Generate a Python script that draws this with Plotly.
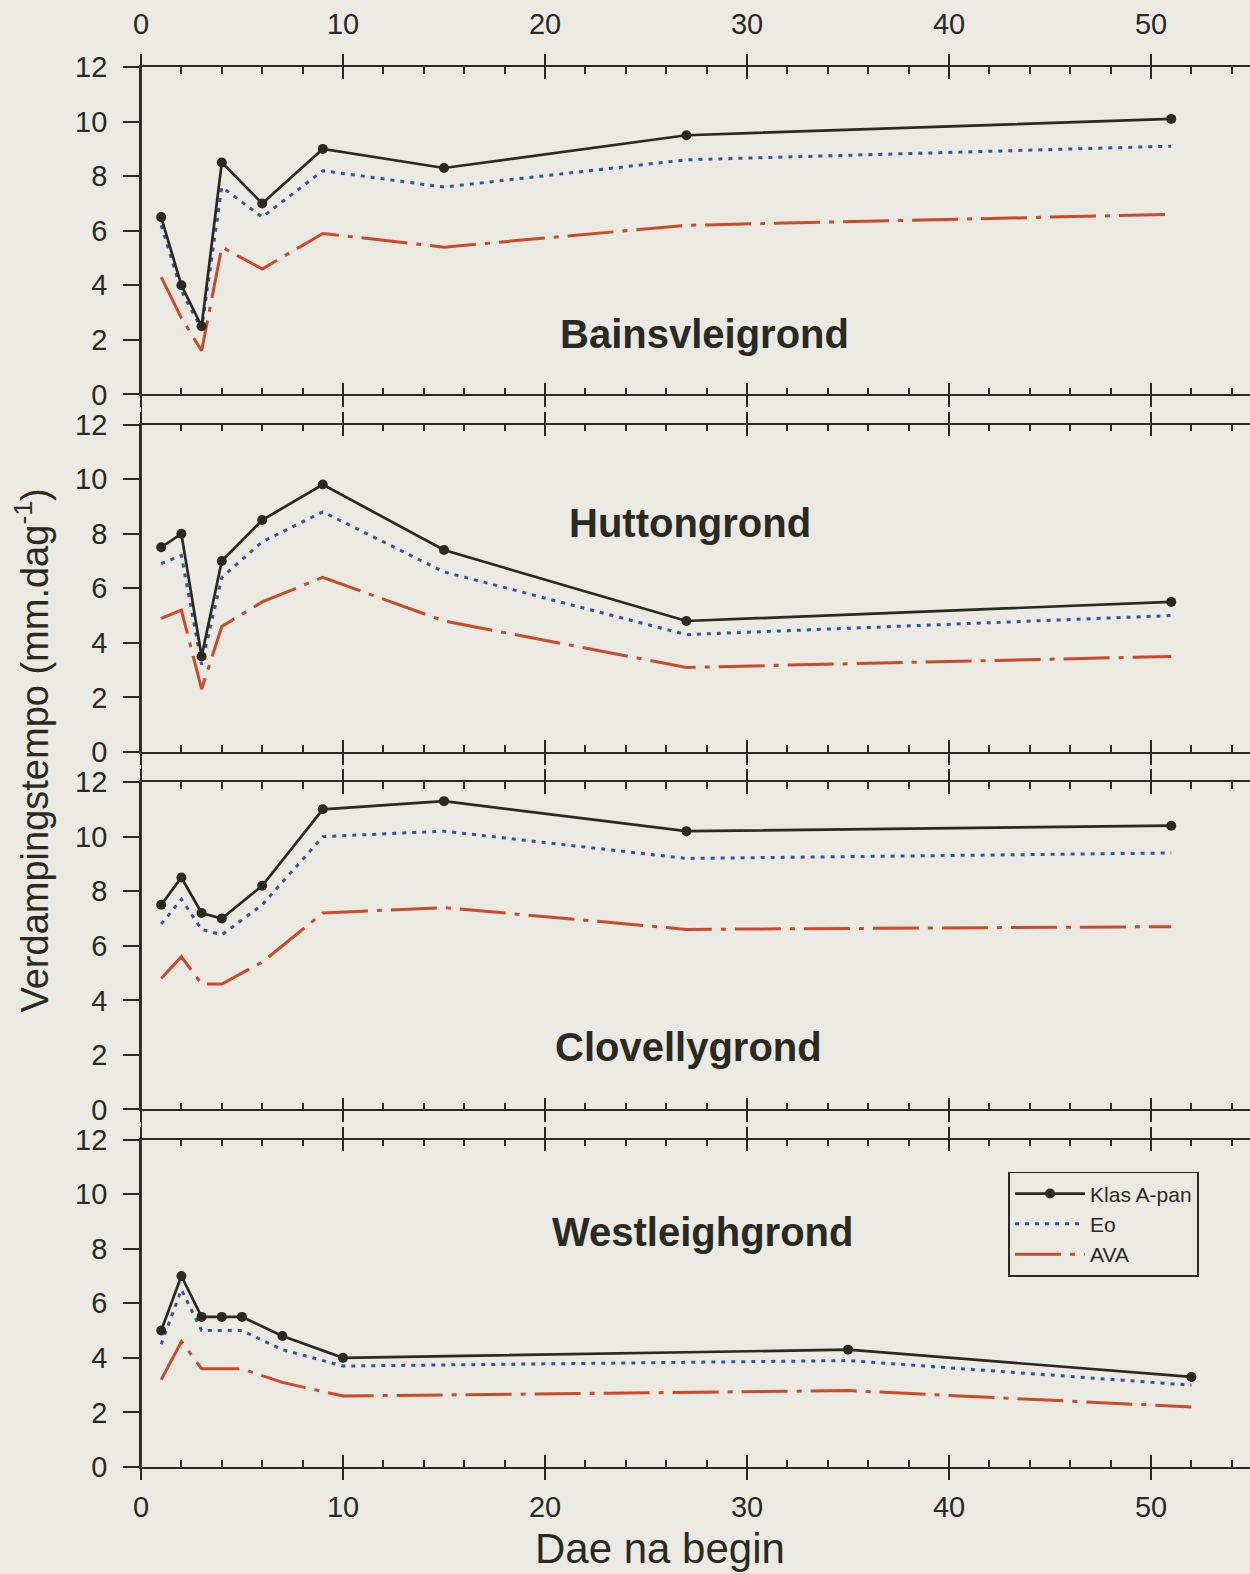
import plotly.graph_objects as go

# Days after start (x) and evaporation rates (mm/day) per soil
days_bains = [1, 2, 3, 4, 6, 9, 15, 27, 51]
pan_bains = [6.5, 4.0, 2.5, 8.5, 7.0, 9.0, 8.3, 9.5, 10.1]
eo_bains = [6.2, 3.8, 2.4, 7.6, 6.5, 8.2, 7.6, 8.6, 9.1]
ava_bains = [4.3, 2.8, 1.6, 5.4, 4.6, 5.9, 5.4, 6.2, 6.6]

days_hutton = [1, 2, 3, 4, 6, 9, 15, 27, 51]
pan_hutton = [7.5, 8.0, 3.5, 7.0, 8.5, 9.8, 7.4, 4.8, 5.5]
eo_hutton = [6.9, 7.2, 3.2, 6.4, 7.7, 8.8, 6.6, 4.3, 5.0]
ava_hutton = [4.9, 5.2, 2.3, 4.6, 5.5, 6.4, 4.8, 3.1, 3.5]

days_clov = [1, 2, 3, 4, 6, 9, 15, 27, 51]
pan_clov = [7.5, 8.5, 7.2, 7.0, 8.2, 11.0, 11.3, 10.2, 10.4]
eo_clov = [6.8, 7.7, 6.6, 6.4, 7.5, 10.0, 10.2, 9.2, 9.4]
ava_clov = [4.8, 5.6, 4.6, 4.6, 5.4, 7.2, 7.4, 6.6, 6.7]

days_west = [1, 2, 3, 4, 5, 7, 10, 35, 52]
pan_west = [5.0, 7.0, 5.5, 5.5, 5.5, 4.8, 4.0, 4.3, 3.3]
eo_west = [4.5, 6.5, 5.0, 5.0, 5.0, 4.3, 3.7, 3.9, 3.0]
ava_west = [3.2, 4.6, 3.6, 3.6, 3.6, 3.1, 2.6, 2.8, 2.2]

soil_names = ["Bainsvleigrond", "Huttongrond", "Clovellygrond", "Westleighgrond"]
# label anchor (day, rate) inside each panel
label_pos = [(27.9, 2.2), (27.2, 8.4), (27.1, 2.3), (27.8, 8.6)]

series_names = ["Klas A-pan", "Eo", "AVA"]
x_ticks = [0, 10, 20, 30, 40, 50]
y_ticks = [0, 2, 4, 6, 8, 10, 12]

panels = [
    (days_bains, pan_bains, eo_bains, ava_bains),
    (days_hutton, pan_hutton, eo_hutton, ava_hutton),
    (days_clov, pan_clov, eo_clov, ava_clov),
    (days_west, pan_west, eo_west, ava_west),
]

INK = "#2a2a22"
BLUE = "#3b51a0"
RED = "#cc4a2c"
BG = "#ebeae2"
FONT = "Liberation Sans, Arial, sans-serif"
XMAX = 54.9

fig = go.Figure()

for i, (d, pan, eo, ava) in enumerate(panels):
    xa = "x" if i == 0 else f"x{i+1}"
    ya = "y" if i == 0 else f"y{i+1}"
    first = i == 0
    fig.add_trace(go.Scatter(
        x=d, y=ava, mode="lines", name=series_names[2], legendrank=3,
        line=dict(color=RED, width=3, dash="46px,9px,5px,9px"),
        xaxis=xa, yaxis=ya, showlegend=first, hoverinfo="skip"))
    fig.add_trace(go.Scatter(
        x=d, y=eo, mode="lines", name=series_names[1], legendrank=2,
        line=dict(color=BLUE, width=3, dash="4px,6px"),
        xaxis=xa, yaxis=ya, showlegend=first, hoverinfo="skip"))
    fig.add_trace(go.Scatter(
        x=d, y=pan, mode="lines+markers", name=series_names[0], legendrank=1,
        line=dict(color=INK, width=2.7),
        marker=dict(color=INK, size=10),
        xaxis=xa, yaxis=ya, showlegend=first, hoverinfo="skip"))
    # empty trace so the overlay axis carrying outward major ticks is drawn
    fig.add_trace(go.Scatter(
        x=[], y=[], xaxis=f"x{i+5}", yaxis=ya, showlegend=False, hoverinfo="skip"))

layout = dict(
    width=1250, height=1574,
    margin=dict(l=141, r=0, t=67, b=107),
    paper_bgcolor=BG, plot_bgcolor=BG,
    font=dict(family=FONT, color=INK),
    showlegend=True,
    legend=dict(
        x=0.782, y=0.211, xanchor="left", yanchor="top",
        bgcolor=BG, bordercolor=INK, borderwidth=1.8,
        font=dict(size=21, family=FONT, color=INK),
        itemwidth=70, tracegroupgap=0, traceorder="normal",
    ),
)

pitch = 0.25536
height = 0.2339
for i in range(4):
    k = 3 - i  # position from bottom
    dom = [k * pitch, k * pitch + height]
    xkey = "xaxis" if i == 0 else f"xaxis{i+1}"
    ykey = "yaxis" if i == 0 else f"yaxis{i+1}"
    ya = "y" if i == 0 else f"y{i+1}"
    xa = "x" if i == 0 else f"x{i+1}"
    show_lbl = i in (0, 3)
    side = "top" if i == 0 else "bottom"
    layout[xkey] = dict(
        domain=[0, 1], anchor=ya, range=[0, XMAX], side=side,
        showline=True, linecolor=INK, linewidth=1.8, mirror="ticks",
        tickmode="array", tickvals=x_ticks,
        ticks="inside", ticklen=12, tickwidth=1.8, tickcolor=INK,
        minor=dict(dtick=2, tick0=0, ticks="inside", ticklen=7,
                   tickwidth=1.5, tickcolor=INK),
        showticklabels=show_lbl, ticklabelstandoff=20 if i == 0 else 13,
        tickfont=dict(size=29, family=FONT, color=INK),
        showgrid=False, zeroline=False, fixedrange=True,
    )
    layout[f"xaxis{i+5}"] = dict(
        overlaying=xa, anchor=ya, range=[0, XMAX], side=side,
        showline=False, mirror="ticks",
        tickmode="array", tickvals=x_ticks,
        ticks="outside", ticklen=12, tickwidth=1.8, tickcolor=INK,
        showticklabels=False, showgrid=False, zeroline=False, fixedrange=True,
    )
    layout[ykey] = dict(
        domain=dom, anchor=xa, range=[0, 12],
        showline=True, linecolor=INK, linewidth=1.8,
        tickmode="array", tickvals=y_ticks,
        ticks="outside", ticklen=16, tickwidth=1.5, tickcolor=INK,
        ticklabelstandoff=10,
        tickfont=dict(size=29, family=FONT, color=INK),
        showgrid=False, zeroline=False, fixedrange=True,
    )

fig.update_layout(**layout)

# continuous left axis line through the gaps between panels
fig.add_shape(type="line", xref="x", yref="paper", x0=0, x1=0, y0=0, y1=1,
              line=dict(color=INK, width=1.8), layer="above")

for i, (name, (lx, ly)) in enumerate(zip(soil_names, label_pos)):
    xa = "x" if i == 0 else f"x{i+1}"
    ya = "y" if i == 0 else f"y{i+1}"
    fig.add_annotation(x=lx, y=ly, xref=xa, yref=ya, text=f"<b>{name}</b>",
                       showarrow=False, font=dict(size=40, family=FONT, color=INK))

fig.add_annotation(x=0.468, y=0, xref="paper", yref="paper", yshift=-107,
                   text="Dae na begin", showarrow=False, yanchor="bottom",
                   font=dict(size=42, family=FONT, color=INK))
fig.add_annotation(x=-0.098, y=0.512, xref="paper", yref="paper",
                   text="Verdampingstempo (mm.dag<sup>-1</sup>)", textangle=-90,
                   showarrow=False, xanchor="center", yanchor="middle",
                   font=dict(size=38, family=FONT, color=INK))

fig.write_html("out.html")
